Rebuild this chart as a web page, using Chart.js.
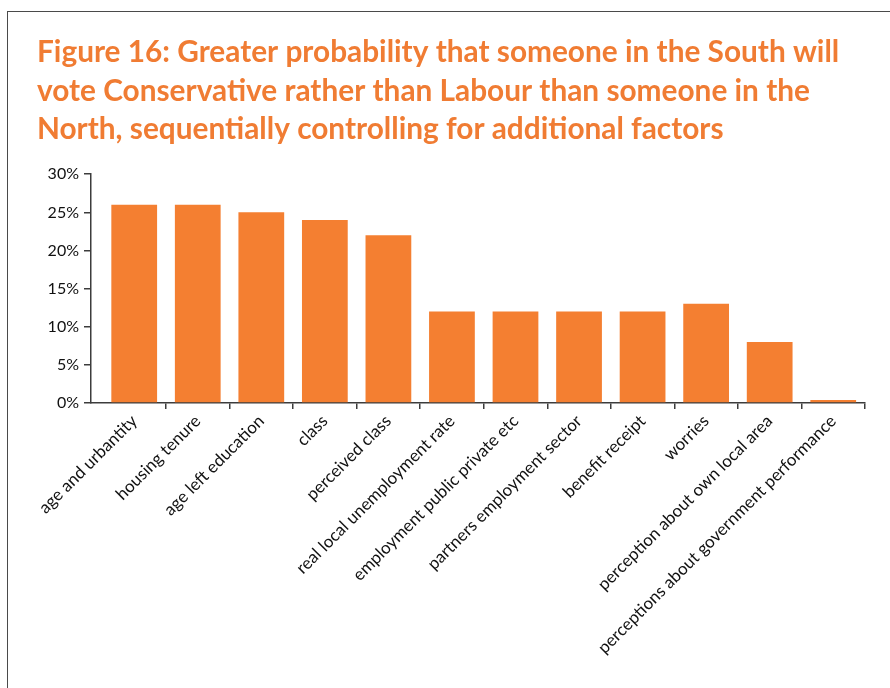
<!DOCTYPE html>
<html>
<head>
<meta charset="utf-8">
<script src="https://cdn.jsdelivr.net/npm/chart.js@4/dist/chart.umd.min.js"></script>
<style>
  html, body { margin: 0; padding: 0; background: #fff; }
  body { width: 890px; height: 688px; position: relative; overflow: hidden; }
  #frame {
    position: absolute; left: 7px; top: 11px; width: 920px; height: 720px;
    border: 1.5px solid #4a4a4a; box-sizing: border-box;
  }
  #wrap { position: absolute; left: 0; top: 0; width: 890px; height: 688px; }
</style>
</head>
<body>
<div id="frame"></div>
<div id="wrap"><canvas id="southNorthChart"></canvas></div>
<script>
const factors = [
    "age and urbantity",
    "housing tenure",
    "age left education",
    "class",
    "perceived class",
    "real local unemployment rate",
    "employment public private etc",
    "partners employment sector",
    "benefit receipt",
    "worries",
    "perception about own local area",
    "perceptions about government performance",
];
const probabilityGap = [26, 26, 25, 24, 22, 12, 12, 12, 12, 13, 8, 0.4];
const percentTicks = [0, 5, 10, 15, 20, 25, 30];
const titleLines = [
    "Figure 16: Greater probability that someone in the South will",
    "vote Conservative rather than Labour than someone in the",
    "North, sequentially controlling for additional factors",
];

const orange = "#F47F31";
const axisColor = "#3c3c3c";

let ctx = document.getElementById("southNorthChart").getContext("2d");
let southNorthChart = new Chart(ctx, {
    type: "bar",
    data: {
        datasets: [
            {
                label: "South vs North",
                data: probabilityGap.map((v, i) => ({ x: i, y: v })),
                backgroundColor: orange,
                barPercentage: 0.72,
                categoryPercentage: 1,
            },
        ],
    },
    options: {
        responsive: true,
        maintainAspectRatio: false,
        animation: false,
        // left padding lines the title up; the y axis width makes up the rest
        layout: { padding: { left: 37, right: 25, top: 0, bottom: 0 } },
        plugins: {
            legend: { display: false },
            tooltip: { enabled: false },
            title: {
                display: true,
                text: titleLines,
                align: "start",
                color: "#F07C33",
                font: { family: "Lato", weight: "bold", size: 29.8, lineHeight: 1.3 },
                padding: { top: 33, bottom: 25 },
            },
        },
        scales: {
            x: {
                type: "linear",
                offset: false,
                // extra room before the first bar, as in the printed figure
                min: -0.68,
                max: 11.5,
                afterBuildTicks: (scale) => {
                    scale.ticks = factors.map((_, i) => ({ value: i }));
                },
                grid: {
                    offset: true,
                    drawOnChartArea: false,
                    color: (c) => (c.index === 0 ? "rgba(0,0,0,0)" : axisColor),
                    lineWidth: 1.5,
                    tickLength: 6,
                },
                border: { color: axisColor, width: 1.5 },
                ticks: {
                    color: "#111",
                    font: { family: "Lato", size: 17 },
                    maxRotation: 45,
                    minRotation: 45,
                    autoSkip: false,
                    padding: 2,
                    callback: (v, i) => factors[i],
                },
                afterFit: (scale) => { scale.height = 285; },
            },
            y: {
                min: 0,
                max: 30,
                afterBuildTicks: (scale) => {
                    scale.ticks = percentTicks.map((v) => ({ value: v }));
                },
                grid: {
                    drawOnChartArea: false,
                    color: axisColor,
                    lineWidth: 1.5,
                    tickLength: 7,
                },
                border: { color: axisColor, width: 1.5 },
                ticks: {
                    color: "#111",
                    font: { family: "Lato", size: 16 },
                    padding: 5,
                    callback: (v) => v + "%",
                },
                afterFit: (scale) => { scale.width = 54; },
            },
        },
    },
});
</script>
</body>
</html>
